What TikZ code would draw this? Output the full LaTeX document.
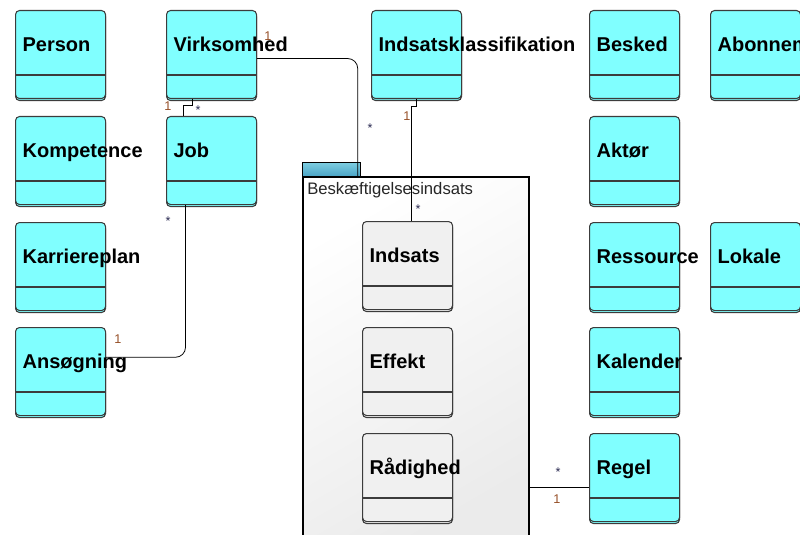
\documentclass[tikz,border=0pt]{standalone}
\usepackage{fontspec}
\setmainfont{Liberation Sans}
\usetikzlibrary{positioning,shadows}

\definecolor{classfill}{RGB}{128,255,255}
\definecolor{innerfill}{RGB}{240,240,240}
\definecolor{tabtop}{RGB}{125,205,225}
\definecolor{tabbot}{RGB}{70,160,195}
\definecolor{edgegray}{RGB}{60,60,60}
\definecolor{multone}{RGB}{150,80,40}
\definecolor{multstar}{RGB}{40,40,80}

\tikzset{
  every class/.style={draw=edgegray, line width=0.8pt, rounded corners=3pt,
    minimum width=67.5pt, minimum height=66pt, anchor=north west, inner sep=0pt},
  class/.style={every class, fill=classfill,
    general shadow={shadow xshift=0pt, shadow yshift=-1.5pt, fill=classfill, draw=edgegray}},
  inner class/.style={every class, fill=innerfill,
    general shadow={shadow xshift=0pt, shadow yshift=-1.5pt, fill=innerfill, draw=edgegray}},
  class name/.style={font=\bfseries\fontsize{15}{18}\selectfont, anchor=base west, inner sep=0pt},
  mult one/.style={font=\fontsize{9.5}{10}\selectfont, inner sep=0pt, text=multone},
  mult star/.style={font=\fontsize{9.5}{10}\selectfont, inner sep=0pt, text=multstar},
  assoc/.style={draw=black, line width=0.6pt},
}

\begin{document}
\begin{tikzpicture}[x=0.75pt, y=-0.75pt]

\useasboundingbox (0,0) rectangle (800,535);
\clip (0,0) rectangle (800,535);

% package
\node [anchor=north west, draw=black, line width=0.8pt, top color=tabtop, bottom color=tabbot,
  minimum width=43.5pt, minimum height=11.25pt, inner sep=0pt] (pkgtab) at (302,162) {};
\node [anchor=north west, draw=black, line width=1.5pt, shading=axis, top color=white,
  bottom color=black!8, shading angle=30,
  minimum width=169.5pt, minimum height=280pt, inner sep=0pt] (pkg) at (302,176) {};
\node [anchor=base west, inner sep=0pt, font=\fontsize{12.5}{14}\selectfont, text=black!85]
  (pkg-name) at (307,195) {Beskæftigelsesindsats};

% classes
\foreach \id/\txt/\x/\y in {person/Person/15/10, komp/Kompetence/15/116,
    karriere/Karriereplan/15/222, ans/Ansøgning/15/327,
    virk/Virksomhed/166/10, job/Job/166/116,
    iklass/Indsatsklassifikation/371/10,
    besked/Besked/589/10, aktor/Aktør/589/116, ressource/Ressource/589/222,
    kalender/Kalender/589/327, regel/Regel/589/433,
    abonnement/Abonnement/710/10, lokale/Lokale/710/222}
{
  \node [class] (\id) at (\x,\y) {};
  \draw [edgegray, line width=0.8pt] ([yshift=-48.75pt]\id.north west) -- ([yshift=-48.75pt]\id.north east);
}

% inner classes
\foreach \id/\txt/\y [count=\i] in {indsats/Indsats/221, effekt/Effekt/327, raadighed/Rådighed/433}
{
  \node [inner class] (\id) at (362,\y) {};
  \draw [edgegray, line width=0.8pt] ([yshift=-48.75pt]\id.north west) -- ([yshift=-48.75pt]\id.north east);
}

% Connections

% Virksomhed -> package
\draw [assoc, rounded corners=7.5pt] ([yshift=-3pt]virk.east) -| ([xshift=-2.5pt]pkgtab.east |- pkg.north);

% Virksomhed -> Job
\draw [assoc] ([xshift=-14.5pt]virk.south) -- ++(0,6) -| ([xshift=-20.75pt]job.north);

% Indsatsklassifikation -> Indsats
\draw [assoc] (iklass.south) -- ++(0,7) -| ([xshift=3.2pt]indsats.north);

% Job -> Ansøgning
\draw [assoc, rounded corners=7.5pt] ([xshift=-19.5pt]job.south) |- ([yshift=10.7pt]ans.east);

% package -> Regel
\draw [assoc] ([yshift=-7.5pt]regel.west) -- ([yshift=-7.5pt]regel.west -| pkg.east);

% names
\foreach \id/\txt in {person/Person, komp/Kompetence, karriere/Karriereplan, ans/Ansøgning,
    virk/Virksomhed, job/Job, iklass/Indsatsklassifikation,
    besked/Besked, aktor/Aktør, ressource/Ressource, kalender/Kalender, regel/Regel,
    abonnement/Abonnement, lokale/Lokale,
    indsats/Indsats, effekt/Effekt, raadighed/Rådighed}
  \node [class name] (\id-name) at ([xshift=5.5pt, yshift=-31.3pt]\id.north west) {\txt};

% multiplicities
\foreach \x/\y [count=\i] in {268/36, 168/106, 407/116, 118/339, 557/499}
  \node [mult one] (one-\i) at (\x,\y) {1};
\foreach \x/\y [count=\i] in {370/128, 198/110, 418/209, 168/221, 558/472}
  \node [mult star] (star-\i) at (\x,\y) {*};

\end{tikzpicture}
\end{document}
